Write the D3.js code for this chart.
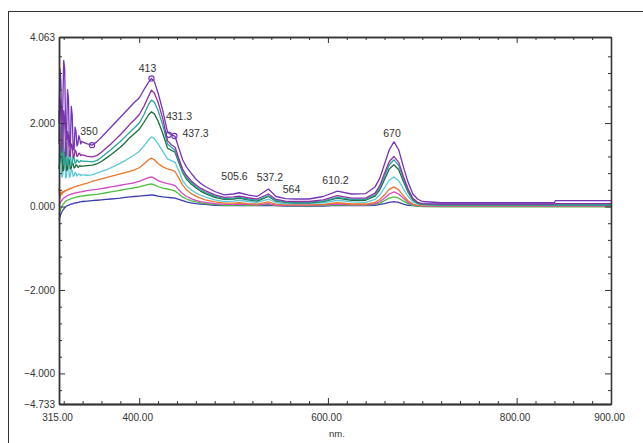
<!DOCTYPE html>
<html><head><meta charset="utf-8">
<script src="https://cdn.jsdelivr.net/npm/d3@7"></script>
<style>
body{margin:0;background:#fff}
svg{display:block}
text{font-family:"Liberation Sans",Arial,sans-serif}
</style>
</head><body>
<svg id="c" width="643" height="443"></svg>
<script>
// ---------------- data ----------------
const wavelengths = [315,316,317,318,319,320,321,322,323,324,325,326,327,328,329,330,331,332,333,334,335,336,337,338,339,340,
  345,350,355,360,365,370,375,380,385,390,395,400,405,410,
  413,416,420,425,430,434,438,442,446,450,455,460,465,470,
  480,490,500,506,515,525,537,545,555,565,580,595,610,625,640,
  650,655,660,665,670,675,680,685,690,695,700,
  720,760,800,840,841,900];

const sPurple = [2.0,3.3,3.0,1.8,2.4,3.5,3.3,1.9,1.6,2.8,2.6,1.5,1.4,2.4,2.2,1.4,1.35,1.9,1.8,1.45,1.5,1.7,1.62,1.5,1.56,1.55,
  1.5,1.47,1.55,1.66,1.78,1.9,2.02,2.14,2.26,2.38,2.5,2.6,2.8,2.98,
  3.07,3.0,2.72,2.3,1.78,1.72,1.68,1.4,1.12,0.95,0.8,0.66,0.56,0.48,
  0.36,0.28,0.3,0.33,0.28,0.24,0.42,0.24,0.19,0.18,0.18,0.24,0.37,0.3,0.31,
  0.47,0.68,1.02,1.36,1.55,1.36,0.95,0.58,0.3,0.18,0.12,
  0.09,0.09,0.09,0.09,0.14,0.14];
const sViolet = [1.5,2.6,2.4,1.3,1.4,2.3,2.1,1.2,1.25,1.8,1.7,1.2,1.22,1.5,1.45,1.18,1.2,1.35,1.32,1.2,1.22,1.28,1.27,1.22,1.24,1.24,
  1.2,1.19,1.22,1.3,1.4,1.5,1.61,1.72,1.84,1.97,2.08,2.2,2.4,2.65,
  2.79,2.72,2.5,2.1,1.58,1.48,1.42,1.15,0.9,0.75,0.62,0.52,0.44,0.38,
  0.28,0.22,0.23,0.25,0.21,0.18,0.3,0.17,0.13,0.12,0.12,0.16,0.26,0.2,0.2,
  0.32,0.5,0.8,1.08,1.2,1.06,0.72,0.42,0.2,0.1,0.07,
  0.06,0.06,0.06,0.06,0.07,0.07];
const sTeal = [2.3,1.2,1.1,2.0,1.9,1.0,1.05,1.6,1.5,0.98,1.0,1.35,1.3,1.0,1.02,1.2,1.17,1.04,1.05,1.12,1.1,1.06,1.07,1.1,1.09,1.09,
  1.08,1.07,1.1,1.18,1.27,1.36,1.46,1.56,1.67,1.78,1.89,2.0,2.2,2.45,
  2.55,2.5,2.3,1.95,1.5,1.42,1.35,1.1,0.85,0.7,0.58,0.48,0.4,0.34,
  0.25,0.19,0.2,0.22,0.18,0.15,0.26,0.14,0.11,0.1,0.1,0.13,0.22,0.17,0.17,
  0.28,0.45,0.72,1.0,1.12,0.98,0.66,0.38,0.18,0.09,0.06,
  0.05,0.05,0.05,0.05,0.05,0.05];
const sDarkGreen = [0.9,1.1,1.5,1.4,0.85,0.88,1.3,1.25,0.86,0.9,1.15,1.1,0.9,0.92,1.05,1.02,0.92,0.94,1.0,0.99,0.94,0.95,0.98,0.97,0.96,0.97,
  0.98,0.99,1.02,1.08,1.16,1.24,1.33,1.42,1.53,1.65,1.75,1.85,2.02,2.2,
  2.27,2.22,2.05,1.75,1.4,1.35,1.3,1.05,0.82,0.66,0.54,0.45,0.37,0.31,
  0.22,0.17,0.18,0.2,0.16,0.13,0.24,0.13,0.1,0.09,0.09,0.12,0.2,0.15,0.15,
  0.25,0.4,0.65,0.9,1.0,0.88,0.6,0.34,0.16,0.08,0.05,
  0.04,0.04,0.04,0.04,0.04,0.04];
const sCyan = [0.9,1.9,1.7,0.7,0.75,1.4,1.3,0.68,0.72,1.1,1.0,0.7,0.74,0.9,0.86,0.72,0.75,0.82,0.8,0.73,0.75,0.78,0.77,0.74,0.76,0.76,
  0.75,0.76,0.8,0.84,0.88,0.93,0.98,1.04,1.1,1.17,1.24,1.32,1.45,1.6,
  1.67,1.63,1.5,1.32,1.14,1.1,1.06,0.85,0.62,0.5,0.4,0.33,0.27,0.23,
  0.16,0.12,0.13,0.15,0.12,0.1,0.18,0.09,0.07,0.07,0.07,0.09,0.15,0.11,0.1,
  0.17,0.28,0.45,0.63,0.71,0.62,0.42,0.24,0.11,0.06,0.04,
  0.03,0.03,0.03,0.03,0.03,0.03];
const sOrange = [0.45,0.2,0.35,0.28,0.36,0.34,0.38,0.37,0.4,0.39,0.42,0.41,0.44,0.43,0.45,0.46,0.47,0.47,0.48,0.49,0.5,0.5,0.51,0.52,0.52,0.53,
  0.56,0.6,0.63,0.66,0.69,0.72,0.75,0.78,0.81,0.84,0.88,0.93,1.02,1.12,
  1.16,1.12,1.03,0.95,0.9,0.88,0.84,0.68,0.52,0.4,0.31,0.25,0.2,0.16,
  0.11,0.08,0.08,0.09,0.07,0.06,0.11,0.05,0.04,0.04,0.04,0.05,0.09,0.06,0.06,
  0.1,0.17,0.28,0.41,0.47,0.4,0.26,0.14,0.06,0.03,0.02,
  0.02,0.02,0.02,0.02,0.02,0.02];
const sMagenta = [0.02,0.08,0.12,0.15,0.18,0.2,0.22,0.23,0.25,0.26,0.27,0.28,0.29,0.3,0.3,0.31,0.32,0.32,0.33,0.33,0.34,0.34,0.35,0.35,0.35,0.36,
  0.38,0.4,0.41,0.43,0.45,0.47,0.49,0.51,0.53,0.55,0.57,0.6,0.65,0.69,
  0.71,0.68,0.62,0.58,0.55,0.53,0.5,0.4,0.31,0.24,0.19,0.15,0.12,0.1,
  0.07,0.05,0.05,0.06,0.05,0.04,0.07,0.03,0.03,0.03,0.03,0.04,0.06,0.04,0.04,
  0.07,0.12,0.2,0.3,0.35,0.3,0.2,0.1,0.05,0.02,0.01,
  0.01,0.01,0.01,0.01,0.01,0.01];
const sGreen = [-0.2,-0.12,-0.05,0.0,0.04,0.07,0.1,0.12,0.14,0.15,0.16,0.17,0.18,0.19,0.2,0.2,0.21,0.22,0.22,0.23,0.23,0.24,0.24,0.25,0.25,0.25,
  0.27,0.28,0.29,0.31,0.33,0.35,0.37,0.39,0.41,0.43,0.45,0.47,0.5,0.53,
  0.54,0.52,0.48,0.44,0.42,0.4,0.37,0.3,0.23,0.18,0.14,0.11,0.09,0.07,
  0.05,0.03,0.03,0.04,0.03,0.03,0.05,0.02,0.02,0.02,0.02,0.02,0.04,0.03,0.03,
  0.05,0.08,0.14,0.2,0.23,0.2,0.13,0.07,0.03,0.01,0.0,
  -0.01,-0.01,-0.01,-0.01,-0.01,-0.01];
const sBlue = [-0.32,-0.25,-0.18,-0.13,-0.09,-0.06,-0.03,-0.01,0.01,0.02,0.03,0.04,0.05,0.06,0.06,0.07,0.08,0.08,0.09,0.09,0.1,0.1,0.11,0.11,0.12,0.12,
  0.13,0.14,0.15,0.16,0.17,0.18,0.19,0.2,0.22,0.23,0.24,0.25,0.26,0.27,
  0.28,0.27,0.25,0.23,0.22,0.21,0.2,0.17,0.14,0.11,0.09,0.07,0.06,0.05,
  0.03,0.02,0.02,0.03,0.02,0.02,0.03,0.02,0.01,0.01,0.01,0.01,0.03,0.02,0.02,
  0.03,0.05,0.07,0.1,0.12,0.1,0.06,0.03,0.02,0.01,0.01,
  0.02,0.02,0.02,0.02,0.02,0.02];

// drawn bottom-most first
const seriesValues = [sBlue, sGreen, sMagenta, sOrange, sCyan, sDarkGreen, sTeal, sViolet, sPurple];
const seriesColors = ["#3a3db0", "#4cbf3f", "#d048c6", "#e8772a", "#5cc8d8", "#1f6b3c", "#26a69a", "#8e2fa3", "#7434b8"];

const markerNm = [350, 413, 431.3, 437.3];
const markerVal = [1.47, 3.07, 1.72, 1.69];

const peakLabels = ["350", "413", "431.3", "437.3", "505.6", "537.2", "564", "610.2", "670"];
const peakLabelNm = [346.8, 408.8, 442.2, 459.7, 501, 538.6, 561.4, 608, 667.9];
const peakLabelVal = [1.71, 3.22, 2.07, 1.67, 0.635, 0.611, 0.324, 0.54, 1.666];

const xLabelTicks = [315, 400, 600, 800, 900];
const yLabelTicks = [4.063, 2, 0, -2, -4, -4.733];
const xTitle = "nm.";

// ---------------- drawing ----------------
const svg = d3.select("#c");
const L = 59, R = 611, T = 37, B = 404;
const x = d3.scaleLinear().domain([315, 900]).range([L, R]);
const y = d3.scaleLinear().domain([-4.733, 4.063]).range([B, T]);
const axisColor = "#333";

// outer frame (extends past the window at right/bottom)
svg.append("rect").attr("x", 8.5).attr("y", 11.5).attr("width", 700).attr("height", 500)
  .attr("fill", "none").attr("stroke", "#333").attr("stroke-width", 1);

const xMinor = d3.range(320, 900, 20).filter(v => v % 200 !== 0);
const xMajor = [400, 600, 800];
const yMinor = d3.range(-44, 41, 4).map(v => v / 10).filter(v => Math.abs(v % 2) > 1e-9);
const yMajor = [2, 0, -2, -4];

// series
const plot = svg.append("g");
const line = d3.line().x((d, i) => x(wavelengths[i])).y(d => y(d));
seriesValues.forEach((vals, k) => {
  plot.append("path").datum(vals).attr("d", line)
    .attr("fill", "none").attr("stroke", seriesColors[k]).attr("stroke-width", 1.3)
    .attr("stroke-linejoin", "round");
});

// markers
plot.selectAll("circle.m").data(markerNm).join("circle")
  .attr("cx", d => x(d)).attr("cy", (d, i) => y(markerVal[i])).attr("r", 2.6)
  .attr("fill", "none").attr("stroke", "#7434b8").attr("stroke-width", 1.1);

// peak labels
svg.selectAll("text.pk").data(peakLabels).join("text")
  .attr("x", (d, i) => x(peakLabelNm[i])).attr("y", (d, i) => y(peakLabelVal[i]))
  .attr("text-anchor", "middle").attr("font-size", 10.5).attr("fill", "#333").text(d => d);

function style(g) {
  g.selectAll("path.domain").attr("stroke", axisColor).attr("stroke-width", 1.3);
  g.selectAll(".tick line").attr("stroke", axisColor).attr("stroke-width", 1);
  g.selectAll("text").attr("fill", "#333").attr("font-size", 10)
    .attr("font-family", "'Liberation Sans', Arial, sans-serif");
}

// bottom axis
svg.append("g").attr("transform", `translate(0,${B})`)
  .call(d3.axisBottom(x).tickValues(xMinor).tickSize(-3).tickSizeOuter(0).tickFormat(""))
  .call(style);
svg.append("g").attr("transform", `translate(0,${B})`)
  .call(d3.axisBottom(x).tickValues(xMajor).tickSize(-6).tickSizeOuter(0).tickFormat(""))
  .call(style);
const xl = svg.append("g").attr("transform", `translate(0,${B})`)
  .call(d3.axisBottom(x).tickValues(xLabelTicks).tickSize(0).tickPadding(10).tickSizeOuter(0).tickFormat(d3.format(".2f")))
  .call(style);
xl.selectAll("text").attr("dx", -2);
// top axis
svg.append("g").attr("transform", `translate(0,${T})`)
  .call(d3.axisTop(x).tickValues(xMinor).tickSize(-3).tickSizeOuter(0).tickFormat(""))
  .call(style);
svg.append("g").attr("transform", `translate(0,${T})`)
  .call(d3.axisTop(x).tickValues(xMajor).tickSize(-6).tickSizeOuter(0).tickFormat(""))
  .call(style);
// left axis
svg.append("g").attr("transform", `translate(${L},0)`)
  .call(d3.axisLeft(y).tickValues(yMinor).tickSize(-3).tickSizeOuter(0).tickFormat(""))
  .call(style);
svg.append("g").attr("transform", `translate(${L},0)`)
  .call(d3.axisLeft(y).tickValues(yMajor).tickSize(-6).tickSizeOuter(0).tickFormat(""))
  .call(style);
svg.append("g").attr("transform", `translate(${L},0)`)
  .call(d3.axisLeft(y).tickValues(yLabelTicks).tickSize(0).tickPadding(4).tickSizeOuter(0).tickFormat(d3.format(".3f")))
  .call(style);
// right axis
svg.append("g").attr("transform", `translate(${R},0)`)
  .call(d3.axisRight(y).tickValues(yMinor).tickSize(-3).tickSizeOuter(0).tickFormat(""))
  .call(style);
svg.append("g").attr("transform", `translate(${R},0)`)
  .call(d3.axisRight(y).tickValues(yMajor).tickSize(-6).tickSizeOuter(0).tickFormat(""))
  .call(style);

// axis title
svg.append("text").attr("x", (L + R) / 2 + 2).attr("y", 437).attr("text-anchor", "middle")
  .attr("font-size", 9.5).attr("fill", "#333").text(xTitle);
</script>
</body></html>
